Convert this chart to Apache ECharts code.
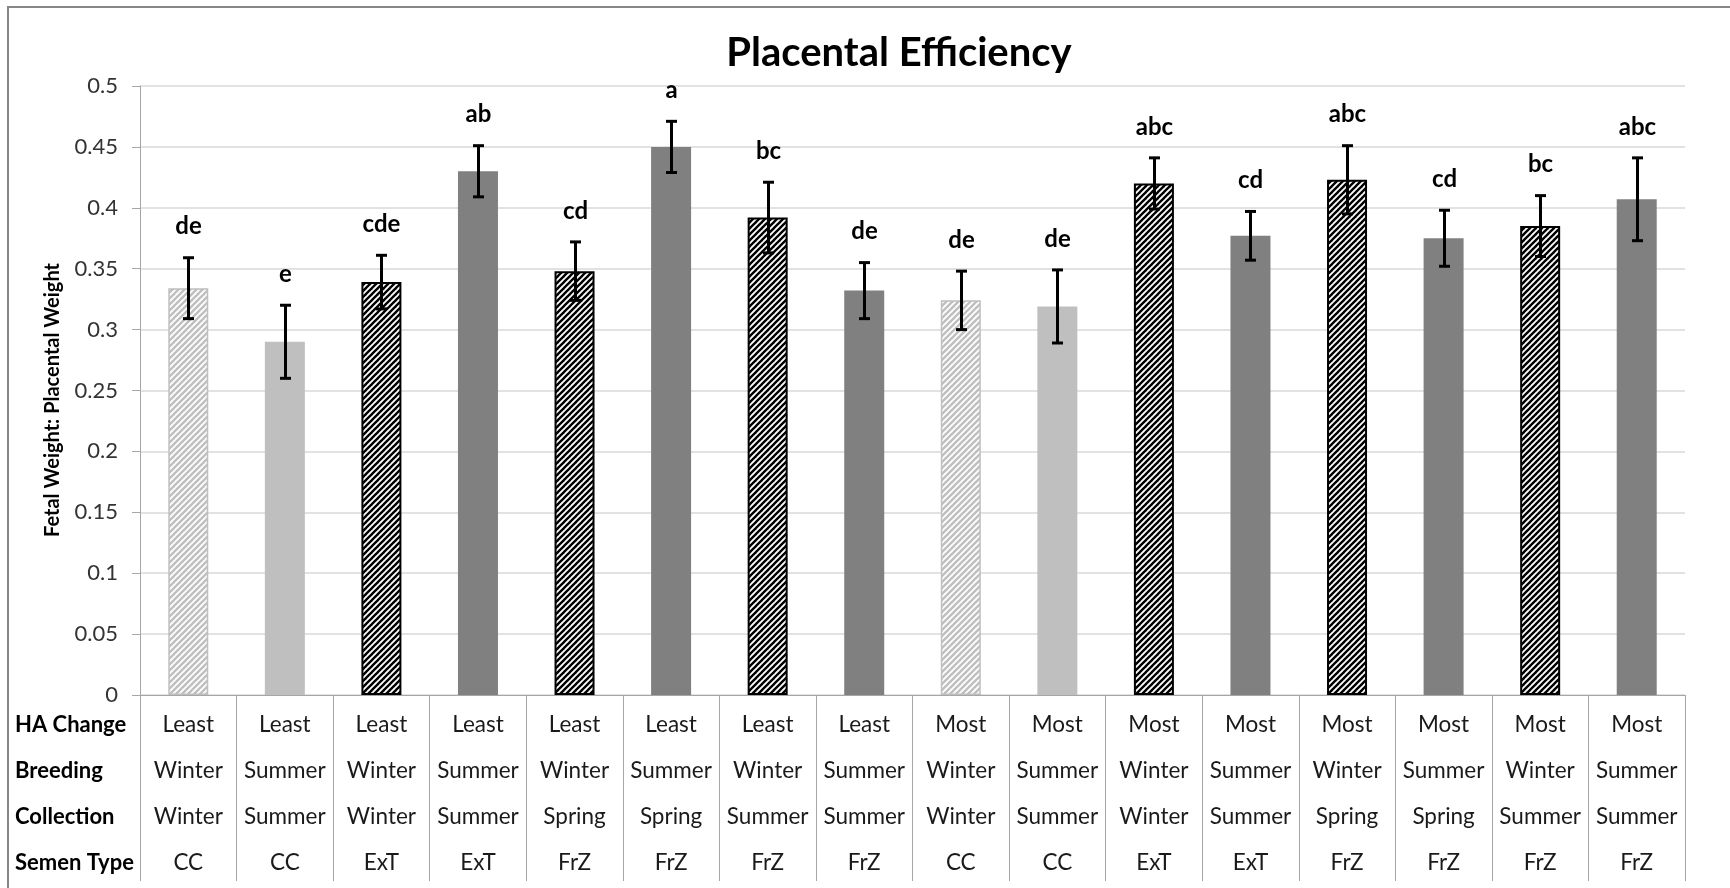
<!DOCTYPE html>
<html>
<head>
<meta charset="utf-8">
<title>Placental Efficiency</title>
<script src="https://cdn.jsdelivr.net/npm/echarts@6/dist/echarts.min.js"></script>
<style>
  html, body { margin: 0; padding: 0; background: #fff; }
  #chart { width: 1730px; height: 888px; }
</style>
</head>
<body>
<div id="chart"></div>
<script>
// Treatment factors, one entry per group
const haChange   = ['Least','Least','Least','Least','Least','Least','Least','Least','Most','Most','Most','Most','Most','Most','Most','Most'];
const breeding   = ['Winter','Summer','Winter','Summer','Winter','Summer','Winter','Summer','Winter','Summer','Winter','Summer','Winter','Summer','Winter','Summer'];
const collection = ['Winter','Summer','Winter','Summer','Spring','Spring','Summer','Summer','Winter','Summer','Winter','Summer','Spring','Spring','Summer','Summer'];
const semenType  = ['CC','CC','ExT','ExT','FrZ','FrZ','FrZ','FrZ','CC','CC','ExT','ExT','FrZ','FrZ','FrZ','FrZ'];

// Fetal weight : placental weight (mean and standard error)
const means = [0.334, 0.290, 0.339, 0.430, 0.348, 0.450, 0.392, 0.332, 0.324, 0.319, 0.420, 0.377, 0.423, 0.375, 0.385, 0.407];
const errs  = [0.025, 0.030, 0.022, 0.021, 0.024, 0.021, 0.029, 0.023, 0.024, 0.030, 0.021, 0.020, 0.028, 0.023, 0.025, 0.034];
const letters = ['de','e','cde','ab','cd','a','bc','de','de','de','abc','cd','abc','cd','bc','abc'];

const rowHeaders = ['HA Change', 'Breeding', 'Collection', 'Semen Type'];
const yTicks = { min: 0, max: 0.5, interval: 0.05 };

const FONT = 'Lato, "Open Sans", sans-serif';
const DARK = '#808080';
const LIGHT = '#BFBFBF';
const AXIS_GREY = '#A6A6A6';

// Diagonal ("/") hatch tile
function hatch(color) {
  const s = 6;
  const c = document.createElement('canvas');
  c.width = s; c.height = s;
  const g = c.getContext('2d');
  g.fillStyle = '#fff';
  g.fillRect(0, 0, s, s);
  g.strokeStyle = color;
  g.lineWidth = 2.4;
  for (const k of [-s, 0, s]) {
    g.beginPath();
    g.moveTo(k - 1, s + 1);
    g.lineTo(k + s + 1, -1);
    g.stroke();
  }
  return { image: c, repeat: 'repeat' };
}

const blackHatch = hatch('#000');
const greyHatch = hatch(LIGHT);

function barStyle(i) {
  const light = semenType[i] === 'CC';
  const hatched = breeding[i] === 'Winter';
  if (hatched) {
    return light
      ? { color: greyHatch, borderColor: LIGHT, borderWidth: 1.5 }
      : { color: blackHatch, borderColor: '#000', borderWidth: 2 };
  }
  return { color: light ? LIGHT : DARK };
}

const categories = haChange.map((h, i) => [h, breeding[i], collection[i], semenType[i]].join('\n'));
const barData = means.map((v, i) => ({ value: v, itemStyle: barStyle(i) }));
const errData = means.map((v, i) => [i, v, errs[i]]);

const chart = echarts.init(document.getElementById('chart'), null, { renderer: 'canvas' });

const grid = { left: 140, right: 45, top: 86, bottom: 193 };
const rowCenters = [725, 771, 817, 863];

chart.setOption({
  animation: false,
  backgroundColor: '#fff',
  title: {
    text: 'Placental Efficiency',
    left: 894,
    top: 28,
    textAlign: 'center',
    textStyle: { fontFamily: FONT, fontWeight: 'bold', fontSize: 40, color: '#000' }
  },
  grid: grid,
  xAxis: {
    type: 'category',
    data: categories,
    axisLine: { show: true, lineStyle: { color: AXIS_GREY, width: 1 } },
    axisTick: { show: true, length: 186, lineStyle: { color: AXIS_GREY, width: 1 } },
    axisLabel: {
      interval: 0,
      margin: 7,
      fontFamily: FONT,
      fontSize: 22.5,
      lineHeight: 46,
      color: '#1a1a1a'
    },
    splitLine: { show: false }
  },
  yAxis: {
    type: 'value',
    min: yTicks.min,
    max: yTicks.max,
    interval: yTicks.interval,
    axisLine: { show: true, lineStyle: { color: AXIS_GREY, width: 1 } },
    axisTick: { show: true, length: 8, lineStyle: { color: AXIS_GREY } },
    axisLabel: { margin: 22, fontFamily: FONT, fontSize: 22, color: '#333' },
    splitLine: { show: true, lineStyle: { color: '#D9D9D9', width: 1.5 } }
  },
  series: [
    {
      type: 'bar',
      data: barData,
      barWidth: 40,
      silent: true
    },
    {
      type: 'custom',
      data: errData,
      encode: { x: 0, y: 1 },
      z: 5,
      silent: true,
      renderItem: function (params, api) {
        const i = api.value(0);
        const m = api.value(1);
        const e = api.value(2);
        const top = api.coord([i, m + e]);
        const bot = api.coord([i, m - e]);
        const x = Math.round(top[0]) + 0.5;
        const cap = 5.5;
        const ls = { stroke: '#000', lineWidth: 3 };
        return {
          type: 'group',
          children: [
            { type: 'line', shape: { x1: x, y1: top[1], x2: x, y2: bot[1] }, style: ls },
            { type: 'line', shape: { x1: x - cap, y1: top[1], x2: x + cap, y2: top[1] }, style: ls },
            { type: 'line', shape: { x1: x - cap, y1: bot[1], x2: x + cap, y2: bot[1] }, style: ls },
            {
              type: 'text',
              style: {
                text: letters[params.dataIndex],
                x: x,
                y: top[1] - 19,
                align: 'center',
                verticalAlign: 'bottom',
                font: 'bold 24px ' + FONT,
                fill: '#000'
              }
            }
          ]
        };
      }
    }
  ],
  graphic: [
    {
      type: 'rect',
      shape: { x: 8, y: 7, width: 1740, height: 900 },
      style: { fill: 'none', stroke: '#868686', lineWidth: 2 },
      silent: true
    },
    {
      type: 'text',
      x: 53,
      y: 400,
      rotation: Math.PI / 2,
      style: {
        text: 'Fetal Weight: Placental Weight',
        align: 'center',
        verticalAlign: 'middle',
        font: 'bold 20px ' + FONT,
        fill: '#000'
      }
    }
  ].concat(rowHeaders.map((t, r) => ({
    type: 'text',
    x: 15,
    y: rowCenters[r],
    style: {
      text: t,
      align: 'left',
      verticalAlign: 'middle',
      font: 'bold 22px ' + FONT,
      fill: '#000'
    }
  })))
});
</script>
</body>
</html>
